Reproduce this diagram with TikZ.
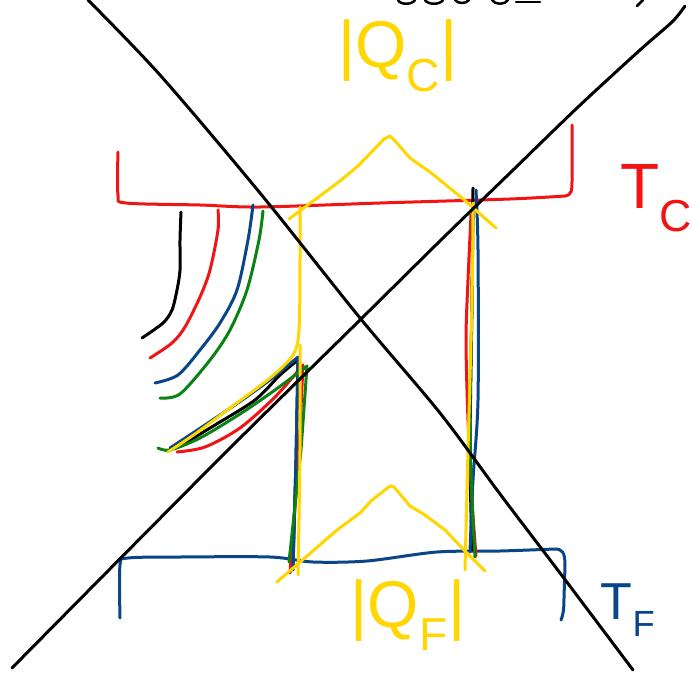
\documentclass[tikz,border=0pt]{standalone}
\usepackage{fontspec}
\setmainfont{Liberation Sans}
\definecolor{hred}{RGB}{240,20,20}
\definecolor{hblue}{RGB}{10,70,135}
\definecolor{hgreen}{RGB}{10,130,20}
\definecolor{hyellow}{RGB}{255,214,0}
\tikzset{
  stroke/.style={line width=3pt,line cap=round,line join=round},
  bk/.style={stroke,black},
  rd/.style={stroke,hred},
  bl/.style={stroke,hblue},
  gr/.style={stroke,hgreen},
  yl/.style={stroke,hyellow},
  lab/.style={inner sep=0pt,outer sep=0pt}
}
\begin{document}
\begin{tikzpicture}[x=1pt,y=-1pt]
\useasboundingbox[fill=white] (0,0) rectangle (693,674);

% cut-off writing at the top edge
\draw[bk,line width=2.5pt] (398,0) .. controls (400,5) and (412,5) .. (415,0);
\draw[bk,line width=2.5pt] (425,0) .. controls (428,5) and (440,5) .. (443,0);
\draw[bk,line width=2.5pt] (455,0) .. controls (458,4) and (466,4) .. (469,0);
\draw[bk,line width=2.5pt] (492,0) .. controls (495,5) and (505,5) .. (508,0);
\draw[bk,line width=2.5pt] (516,2) -- (540,2);
\draw[bk,line width=2.5pt] (637,6) -- (643,0);

% reservoirs
\draw[rd] plot[smooth] coordinates {(118,152) (118,195) (126,203) (200,205) (260,207) (380,203) (510,199) (565,196)}
          .. controls (572,195) and (572,190) .. (572,180) -- (572,125);
\draw[bl] plot[smooth] coordinates {(120,618) (120,565) (128,558) (180,557) (270,557) (313,562) (367,561) (437,552) (500,551) (555,549)}
          .. controls (562,549) and (565,552) .. (565,565) -- (564,598) .. controls (564,610) and (563,615) .. (561,620);

% upper fan of curves
\draw[bk] plot[smooth] coordinates {(181,212) (180,240) (180,270) (177,290) (172,310) (163,323) (142,338)};
\draw[rd] plot[smooth] coordinates {(218,210) (218,230) (210,270) (200,297) (185,327) (172,343) (150,358)};
\draw[bl] plot[smooth] coordinates {(253,205) (248,240) (237,290) (220,323) (200,350) (178,375) (155,383)};
\draw[gr] plot[smooth] coordinates {(263,211) (259,240) (247,290) (230,330) (210,360) (180,394) (160,398)};

% left bundle
\draw[bk] plot[smooth] coordinates {(180,446) (215,425) (255,400) (280,375) (298,360)} -- (296,460) -- (293,565);
\draw[rd] plot[smooth] coordinates {(177,452) (205,447) (240,428) (275,397) (303,365)} -- (299,450) -- (290,573);
\draw[bl] plot[smooth] coordinates {(170,448) (205,425) (245,398) (275,376) (298,357)} -- (296,460) -- (293,570);
\draw[gr] plot[smooth] coordinates {(158,448) (170,450) (200,438) (240,414) (275,390) (307,366)} -- (301,450) -- (289,562);

% right bundle
\draw[bk] plot[smooth] coordinates {(473,188) (472,300) (470,450) (472,550)};
\draw[rd] plot[smooth] coordinates {(471,215) (468,280) (466,340) (468,420) (472,500) (476,556)};
\draw[bl] plot[smooth] coordinates {(476,190) (478,250) (478,400) (473,480) (470,552)};
\draw[gr] plot[smooth] coordinates {(473,205) (472,300) (470,420) (472,500) (475,557)};

% yellow heat arrows
\draw[yl] plot[smooth] coordinates {(300,207) (300,260) (299,330) (293,355) (270,378) (230,408) (195,434) (168,452)};
\draw[yl] plot[smooth] coordinates {(300,345) (300,450) (298,575)};
\draw[yl] plot[smooth] coordinates {(473,203) (472,300) (468,450) (465,570)};
\draw[yl] (289,219) -- (340,181) -- (358,166) -- (384,139) -- (390,136) -- (396,142) -- (410,158) -- (430,172) -- (462,198) -- (496,228);
\draw[yl] (277,582) -- (337,530) -- (360,513) -- (372,500) -- (390,486) -- (394,487) -- (410,506) -- (425,515) -- (445,530) -- (465,551) -- (485,571);

% the big cross
\draw[bk] plot[smooth] coordinates {(88,0) (160,75) (260,193) (360,318) (440,413) (500,494) (560,573) (633,670)};
\draw[bk] plot[smooth] coordinates {(12,668) (220,458) (360,320) (443,238) (510,173) (577,108) (640,50) (672,22) (685,6)};

% labels
\node[lab,text=hyellow,font=\fontsize{66}{66}\selectfont] (qc) at (398,56) {|Q\textsubscript{C}|};
\node[lab,text=hyellow,font=\fontsize{66}{66}\selectfont] (qf) at (408,615) {|Q\textsubscript{F}|};
\node[lab,text=hred,font=\fontsize{64}{64}\selectfont] (tc) at (656,198) {T\textsubscript{C}};
\node[lab,text=hblue,font=\fontsize{52}{52}\selectfont] (tf) at (628,610) {T\textsubscript{F}};
\end{tikzpicture}
\end{document}
